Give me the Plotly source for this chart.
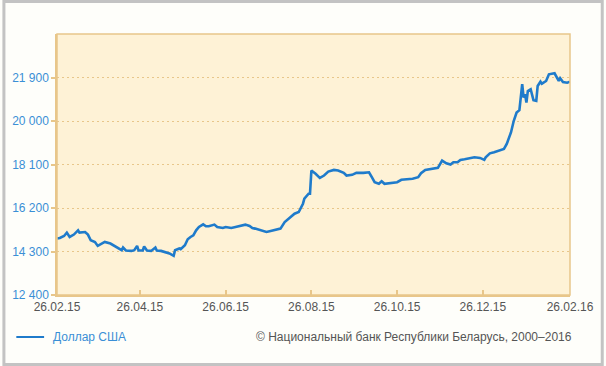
import plotly.graph_objects as go

dates = [
    "2015-02-26", "2015-02-28", "2015-03-03", "2015-03-05", "2015-03-07", "2015-03-10",
    "2015-03-13", "2015-03-14", "2015-03-18", "2015-03-20", "2015-03-22", "2015-03-25",
    "2015-03-27", "2015-03-30", "2015-04-01", "2015-04-05", "2015-04-07", "2015-04-11",
    "2015-04-13", "2015-04-14", "2015-04-16", "2015-04-20", "2015-04-22", "2015-04-24",
    "2015-04-25", "2015-04-28", "2015-04-29", "2015-05-01", "2015-05-04", "2015-05-07",
    "2015-05-08", "2015-05-11", "2015-05-15", "2015-05-17", "2015-05-20", "2015-05-21",
    "2015-05-24", "2015-05-25", "2015-05-28", "2015-05-30", "2015-06-01", "2015-06-03",
    "2015-06-05", "2015-06-07", "2015-06-10", "2015-06-12", "2015-06-14", "2015-06-18",
    "2015-06-20", "2015-06-24", "2015-06-26", "2015-06-30", "2015-07-03", "2015-07-07",
    "2015-07-10", "2015-07-13", "2015-07-15", "2015-07-17", "2015-07-19", "2015-07-21",
    "2015-07-25", "2015-07-28", "2015-08-01", "2015-08-04", "2015-08-07", "2015-08-09",
    "2015-08-11", "2015-08-14", "2015-08-17", "2015-08-20", "2015-08-21", "2015-08-24",
    "2015-08-25", "2015-08-26", "2015-08-29", "2015-09-01", "2015-09-04", "2015-09-07",
    "2015-09-11", "2015-09-14", "2015-09-18", "2015-09-20", "2015-09-24", "2015-09-27",
    "2015-10-02", "2015-10-06", "2015-10-08", "2015-10-10", "2015-10-13", "2015-10-15",
    "2015-10-17", "2015-10-21", "2015-10-26", "2015-10-29", "2015-11-03", "2015-11-06",
    "2015-11-10", "2015-11-12", "2015-11-15", "2015-11-19", "2015-11-24", "2015-11-27",
    "2015-11-30", "2015-12-03", "2015-12-05", "2015-12-08", "2015-12-10", "2015-12-13",
    "2015-12-17", "2015-12-20", "2015-12-24", "2015-12-27", "2015-12-28", "2015-12-31",
    "2016-01-03", "2016-01-07", "2016-01-10", "2016-01-12", "2016-01-15", "2016-01-17",
    "2016-01-19", "2016-01-21", "2016-01-22", "2016-01-23", "2016-01-24", "2016-01-25",
    "2016-01-26", "2016-01-27", "2016-01-29", "2016-01-31", "2016-02-02", "2016-02-03",
    "2016-02-05", "2016-02-06", "2016-02-09", "2016-02-11", "2016-02-15", "2016-02-17",
    "2016-02-18", "2016-02-19", "2016-02-21", "2016-02-24", "2016-02-26",
]

usd_rates = [
    14865, 14891, 14978, 15126, 14935, 15039,
    15226, 15126, 15152, 15039, 14791, 14717,
    14544, 14631, 14717, 14648, 14574, 14431,
    14357, 14474, 14344, 14326, 14357, 14544,
    14344, 14344, 14517, 14344, 14326, 14474,
    14344, 14326, 14257, 14213, 14109, 14357,
    14431, 14400, 14574, 14835, 14935, 15009,
    15226, 15370, 15487, 15400, 15400, 15474,
    15370, 15326, 15370, 15326, 15370, 15413,
    15474, 15413, 15326, 15300, 15257, 15226,
    15152, 15196, 15257, 15300, 15587, 15691,
    15778, 15952, 16022, 16387, 16605, 16822,
    16822, 17835, 17692, 17518, 17618, 17792,
    17865, 17835, 17735, 17618, 17648, 17735,
    17735, 17761, 17544, 17326, 17257, 17370,
    17257, 17283, 17326, 17431, 17444, 17474,
    17544, 17718, 17865, 17891, 17952, 18270,
    18152, 18096, 18196, 18196, 18300, 18326,
    18370, 18413, 18387, 18300, 18413, 18587,
    18631, 18735, 18778, 18996, 19500, 20009,
    20370, 20474, 21170, 21605, 21022, 21170,
    20805, 21313, 21387, 20909, 20879, 21531,
    21718, 21631, 21748, 22040, 22083, 21892,
    21748, 21866, 21705, 21674, 21718,
]

x_tick_dates = ["2015-02-26", "2015-04-26", "2015-06-26", "2015-08-26",
                "2015-10-26", "2015-12-26", "2016-02-26"]
x_tick_labels = ["26.02.15", "26.04.15", "26.06.15", "26.08.15",
                 "26.10.15", "26.12.15", "26.02.16"]
y_tick_values = [12400, 14300, 16200, 18100, 20000, 21900]
y_tick_labels = ["12 400", "14 300", "16 200", "18 100", "20 000", "21 900"]

series_name = "Доллар США"
copyright_text = "© Национальный банк Республики Беларусь, 2000–2016"

LINE_BLUE = "#1f7bcb"
LABEL_BLUE = "#3a8fd6"
ORANGE = "#e8c68a"
FONT = "Liberation Sans, Arial, sans-serif"

fig = go.Figure()
fig.add_trace(go.Scatter(
    x=dates, y=usd_rates, mode="lines", name=series_name,
    line=dict(color=LINE_BLUE, width=2.6), showlegend=False,
))

# pixel -> paper helpers (plot area 55..572 x, 34..295 y)
L, R, T, B = 55, 572, 34, 295
def px(xp):
    return (xp - L) / (R - L)
def py(yp):
    return (B - yp) / (B - T)

shapes = [
    # outer gray frame
    dict(type="rect", xref="paper", yref="paper",
         x0=px(1.5), x1=px(604.5), y0=py(364.5), y1=py(1.5),
         line=dict(color="#c3c3c3", width=3), fillcolor="rgba(0,0,0,0)", layer="below"),
    # plot area fill
    dict(type="rect", xref="paper", yref="paper", x0=0, x1=1, y0=0, y1=1,
         line=dict(width=0), fillcolor="#fef2d6", layer="below"),
    # plot area border
    dict(type="rect", xref="paper", yref="paper", x0=0, x1=1, y0=0, y1=1,
         line=dict(color=ORANGE, width=1.5), fillcolor="rgba(0,0,0,0)", layer="above"),
    # legend sample line
    dict(type="line", xref="paper", yref="paper",
         x0=px(14), x1=px(42), y0=py(337), y1=py(337),
         line=dict(color=LINE_BLUE, width=2)),
]

annotations = [
    dict(text=series_name, xref="paper", yref="paper", x=px(49), y=py(337),
         xanchor="left", yanchor="middle", showarrow=False,
         font=dict(family=FONT, size=12, color=LABEL_BLUE)),
    dict(text=copyright_text, xref="paper", yref="paper", x=px(576), y=py(337),
         xanchor="right", yanchor="middle", showarrow=False,
         font=dict(family=FONT, size=12, color="#555555")),
]

fig.update_layout(
    width=606, height=366,
    margin=dict(l=L, r=606 - R, t=T, b=366 - B),
    paper_bgcolor="#fefefa",
    plot_bgcolor="rgba(0,0,0,0)",
    font=dict(family=FONT, size=12),
    shapes=shapes,
    annotations=annotations,
    showlegend=False,
)

fig.update_xaxes(
    type="date", range=["2015-02-26", "2016-02-26"],
    tickmode="array", tickvals=x_tick_dates, ticktext=x_tick_labels,
    ticks="inside", ticklen=5, tickcolor=ORANGE, tickwidth=1.5,
    tickfont=dict(family=FONT, size=12, color="#555555"),
    showgrid=False, showline=True, linecolor=ORANGE, linewidth=1.5,
    zeroline=False, fixedrange=True,
)
fig.update_yaxes(
    range=[12400, 23800],
    tickmode="array", tickvals=y_tick_values, ticktext=y_tick_labels,
    ticks="outside", ticklen=4, tickcolor=ORANGE, tickwidth=1.5,
    tickfont=dict(family=FONT, size=12, color=LABEL_BLUE),
    showgrid=True, gridcolor=ORANGE, gridwidth=1.3, griddash="2px,3px",
    showline=True, linecolor=ORANGE, linewidth=1.5,
    zeroline=False, fixedrange=True,
)

fig.write_html(
    "out.html",
    config={"displayModeBar": False},
    post_script="document.body.style.margin='0';document.body.style.overflow='hidden';",
)
